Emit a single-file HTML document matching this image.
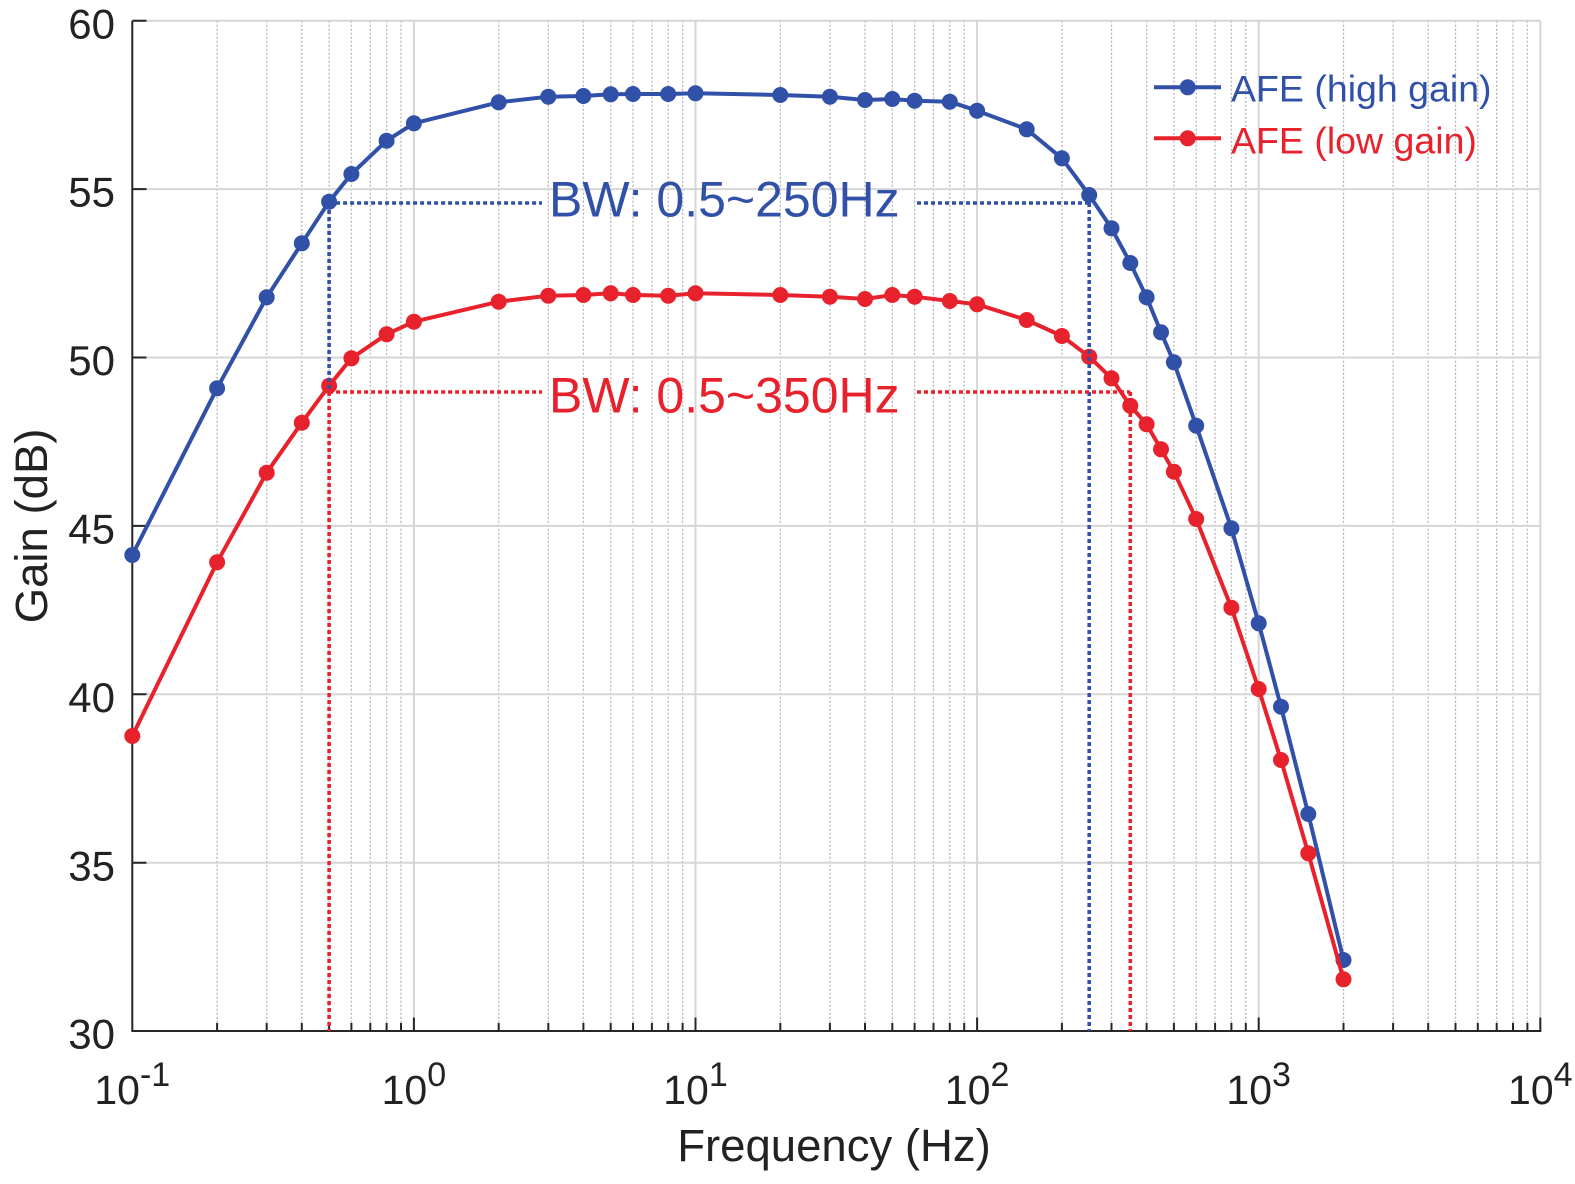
<!DOCTYPE html>
<html><head><meta charset="utf-8"><style>
html,body{margin:0;padding:0;background:#fff;}
svg{display:block;}
text{font-family:"Liberation Sans",Arial,sans-serif;}
</style></head><body>
<svg width="1575" height="1184" viewBox="0 0 1575 1184" xmlns="http://www.w3.org/2000/svg">
<rect width="1575" height="1184" fill="#fff"/>
<!-- minor vertical dotted grid -->
<g stroke="#b4b4b4" stroke-width="1.3" stroke-dasharray="2 2" fill="none">
<path d="M217.1 20.7V1031M266.7 20.7V1031M301.8 20.7V1031M329.1 20.7V1031M351.4 20.7V1031M370.3 20.7V1031M386.6 20.7V1031M401 20.7V1031
M498.7 20.7V1031M548.3 20.7V1031M583.4 20.7V1031M610.7 20.7V1031M633 20.7V1031M651.9 20.7V1031M668.2 20.7V1031M682.6 20.7V1031
M780.3 20.7V1031M829.9 20.7V1031M865 20.7V1031M892.3 20.7V1031M914.6 20.7V1031M933.5 20.7V1031M949.8 20.7V1031M964.2 20.7V1031
M1061.9 20.7V1031M1111.5 20.7V1031M1146.6 20.7V1031M1173.9 20.7V1031M1196.2 20.7V1031M1215.1 20.7V1031M1231.4 20.7V1031M1245.8 20.7V1031
M1343.5 20.7V1031M1393.1 20.7V1031M1428.2 20.7V1031M1455.5 20.7V1031M1477.8 20.7V1031M1496.7 20.7V1031M1513 20.7V1031M1527.4 20.7V1031"/>
</g>
<!-- major grid -->
<g stroke="#d6d6d6" stroke-width="2" fill="none">
<path d="M413.9 20.7V1031M695.5 20.7V1031M977.1 20.7V1031M1258.7 20.7V1031M1540.3 20.7V1031"/>
<path d="M132.3 20.7H1540.3M132.3 189.1H1540.3M132.3 357.5H1540.3M132.3 525.9H1540.3M132.3 694.3H1540.3M132.3 862.7H1540.3"/>
</g>
<!-- axes -->
<g stroke="#262626" stroke-width="2" fill="none">
<path d="M132.3 20.7V1032M131.3 1031H1541.3"/>
<path d="M132.3 20.7H146.5M132.3 189.1H146.5M132.3 357.5H146.5M132.3 525.9H146.5M132.3 694.3H146.5M132.3 862.7H146.5"/>
<path d="M413.9 1031V1017.5M695.5 1031V1017.5M977.1 1031V1017.5M1258.7 1031V1017.5M1540.3 1031V1017.5"/>
<path d="M217.1 1031V1023M266.7 1031V1023M301.8 1031V1023M329.1 1031V1023M351.4 1031V1023M370.3 1031V1023M386.6 1031V1023M401 1031V1023
M498.7 1031V1023M548.3 1031V1023M583.4 1031V1023M610.7 1031V1023M633 1031V1023M651.9 1031V1023M668.2 1031V1023M682.6 1031V1023
M780.3 1031V1023M829.9 1031V1023M865 1031V1023M892.3 1031V1023M914.6 1031V1023M933.5 1031V1023M949.8 1031V1023M964.2 1031V1023
M1061.9 1031V1023M1111.5 1031V1023M1146.6 1031V1023M1173.9 1031V1023M1196.2 1031V1023M1215.1 1031V1023M1231.4 1031V1023M1245.8 1031V1023
M1343.5 1031V1023M1393.1 1031V1023M1428.2 1031V1023M1455.5 1031V1023M1477.8 1031V1023M1496.7 1031V1023M1513 1031V1023M1527.4 1031V1023"/>
</g>
<!-- y tick labels -->
<g font-size="42" fill="#222" text-anchor="end">
<text x="115" y="38.3">60</text>
<text x="115" y="206.7">55</text>
<text x="115" y="375.1">50</text>
<text x="115" y="543.5">45</text>
<text x="115" y="711.9">40</text>
<text x="115" y="880.3">35</text>
<text x="115" y="1048.7">30</text>
</g>
<!-- x tick labels -->
<g fill="#222" text-anchor="middle">
<text x="132.3" y="1104" font-size="41">10<tspan font-size="34" dy="-18">-1</tspan></text>
<text x="413.9" y="1104" font-size="41">10<tspan font-size="34" dy="-18">0</tspan></text>
<text x="695.5" y="1104" font-size="41">10<tspan font-size="34" dy="-18">1</tspan></text>
<text x="977.1" y="1104" font-size="41">10<tspan font-size="34" dy="-18">2</tspan></text>
<text x="1258.7" y="1104" font-size="41">10<tspan font-size="34" dy="-18">3</tspan></text>
<text x="1540.3" y="1104" font-size="41">10<tspan font-size="34" dy="-18">4</tspan></text>
</g>
<!-- axis labels -->
<text x="834" y="1161" font-size="45.5" fill="#222" text-anchor="middle">Frequency (Hz)</text>
<text transform="translate(47 525.9) rotate(-90)" font-size="45.5" fill="#222" text-anchor="middle">Gain (dB)</text>

<!-- series: high gain (blue) -->
<g stroke="#3151a8" fill="#3151a8">
<polyline fill="none" stroke-width="4" stroke-linejoin="round" points="132.3,555 217.1,388.3 266.7,297.3 301.8,243.3 329.1,201.7 351.4,174 386.6,140.7 413.9,123.3 498.7,102.3 548.3,96.7 583.4,96 610.7,94.3 633,94 668.2,94 695.5,93.3 780.3,95 829.9,96.7 865,100 892.3,99 914.6,100.7 949.8,101.7 977.1,110.7 1026.7,129.3 1061.9,158.3 1089.2,195 1111.5,228.3 1130.3,263 1146.6,297.3 1161,332.3 1173.9,362.3 1196.2,425.7 1231.4,528.3 1258.7,623.3 1281,706.7 1308.3,814 1343.5,960"/>
<g stroke="none">
<circle cx="132.3" cy="555" r="8"/><circle cx="217.1" cy="388.3" r="8"/><circle cx="266.7" cy="297.3" r="8"/><circle cx="301.8" cy="243.3" r="8"/><circle cx="329.1" cy="201.7" r="8"/><circle cx="351.4" cy="174" r="8"/><circle cx="386.6" cy="140.7" r="8"/><circle cx="413.9" cy="123.3" r="8"/><circle cx="498.7" cy="102.3" r="8"/><circle cx="548.3" cy="96.7" r="8"/><circle cx="583.4" cy="96" r="8"/><circle cx="610.7" cy="94.3" r="8"/><circle cx="633" cy="94" r="8"/><circle cx="668.2" cy="94" r="8"/><circle cx="695.5" cy="93.3" r="8"/><circle cx="780.3" cy="95" r="8"/><circle cx="829.9" cy="96.7" r="8"/><circle cx="865" cy="100" r="8"/><circle cx="892.3" cy="99" r="8"/><circle cx="914.6" cy="100.7" r="8"/><circle cx="949.8" cy="101.7" r="8"/><circle cx="977.1" cy="110.7" r="8"/><circle cx="1026.7" cy="129.3" r="8"/><circle cx="1061.9" cy="158.3" r="8"/><circle cx="1089.2" cy="195" r="8"/><circle cx="1111.5" cy="228.3" r="8"/><circle cx="1130.3" cy="263" r="8"/><circle cx="1146.6" cy="297.3" r="8"/><circle cx="1161" cy="332.3" r="8"/><circle cx="1173.9" cy="362.3" r="8"/><circle cx="1196.2" cy="425.7" r="8"/><circle cx="1231.4" cy="528.3" r="8"/><circle cx="1258.7" cy="623.3" r="8"/><circle cx="1281" cy="706.7" r="8"/><circle cx="1308.3" cy="814" r="8"/><circle cx="1343.5" cy="960" r="8"/>
</g>
</g>
<!-- series: low gain (red) -->
<g stroke="#e8222c" fill="#e8222c">
<polyline fill="none" stroke-width="4" stroke-linejoin="round" points="132.3,736 217.1,562.3 266.7,472.7 301.8,422.7 329.1,385.7 351.4,358.3 386.6,334.3 413.9,321.7 498.7,301.7 548.3,295.7 583.4,295 610.7,293.3 633,295 668.2,295.7 695.5,293.3 780.3,295 829.9,296.7 865,299 892.3,295 914.6,296.7 949.8,301 977.1,304.3 1026.7,320 1061.9,336 1089.2,356.7 1111.5,378.3 1130.3,405.7 1146.6,424.3 1161,449.3 1173.9,471.7 1196.2,519 1231.4,607.7 1258.7,689 1281,760 1308.3,853.3 1343.5,979.3"/>
<g stroke="none">
<circle cx="132.3" cy="736" r="8"/><circle cx="217.1" cy="562.3" r="8"/><circle cx="266.7" cy="472.7" r="8"/><circle cx="301.8" cy="422.7" r="8"/><circle cx="329.1" cy="385.7" r="8"/><circle cx="351.4" cy="358.3" r="8"/><circle cx="386.6" cy="334.3" r="8"/><circle cx="413.9" cy="321.7" r="8"/><circle cx="498.7" cy="301.7" r="8"/><circle cx="548.3" cy="295.7" r="8"/><circle cx="583.4" cy="295" r="8"/><circle cx="610.7" cy="293.3" r="8"/><circle cx="633" cy="295" r="8"/><circle cx="668.2" cy="295.7" r="8"/><circle cx="695.5" cy="293.3" r="8"/><circle cx="780.3" cy="295" r="8"/><circle cx="829.9" cy="296.7" r="8"/><circle cx="865" cy="299" r="8"/><circle cx="892.3" cy="295" r="8"/><circle cx="914.6" cy="296.7" r="8"/><circle cx="949.8" cy="301" r="8"/><circle cx="977.1" cy="304.3" r="8"/><circle cx="1026.7" cy="320" r="8"/><circle cx="1061.9" cy="336" r="8"/><circle cx="1089.2" cy="356.7" r="8"/><circle cx="1111.5" cy="378.3" r="8"/><circle cx="1130.3" cy="405.7" r="8"/><circle cx="1146.6" cy="424.3" r="8"/><circle cx="1161" cy="449.3" r="8"/><circle cx="1173.9" cy="471.7" r="8"/><circle cx="1196.2" cy="519" r="8"/><circle cx="1231.4" cy="607.7" r="8"/><circle cx="1258.7" cy="689" r="8"/><circle cx="1281" cy="760" r="8"/><circle cx="1308.3" cy="853.3" r="8"/><circle cx="1343.5" cy="979.3" r="8"/>
</g>
</g>

<!-- bandwidth annotations -->
<g fill="none" stroke-width="3.6" stroke-dasharray="4 3">
<path stroke="#3151a8" d="M329.1 203H542M917 203H1089.2M329.1 203V390M1089.2 203V1031"/>
<path stroke="#e8222c" d="M329.1 392H542M917 392H1130.3M329.1 392V1031M1130.3 392V1031"/>
</g>
<text x="549" y="216.7" font-size="50" fill="#3151a8">BW: 0.5~250Hz</text>
<text x="549" y="412.5" font-size="50" fill="#e8222c">BW: 0.5~350Hz</text>

<!-- legend -->
<g>
<line x1="1154" y1="87.3" x2="1221" y2="87.3" stroke="#3151a8" stroke-width="4"/>
<circle cx="1187.7" cy="87.3" r="8" fill="#3151a8"/>
<text x="1231" y="101.7" font-size="37.5" fill="#3151a8">AFE (high gain)</text>
<line x1="1154" y1="138.3" x2="1221" y2="138.3" stroke="#e8222c" stroke-width="4"/>
<circle cx="1187.7" cy="138.3" r="8" fill="#e8222c"/>
<text x="1231" y="153.3" font-size="37.5" fill="#e8222c">AFE (low gain)</text>
</g>
</svg>
</body></html>
